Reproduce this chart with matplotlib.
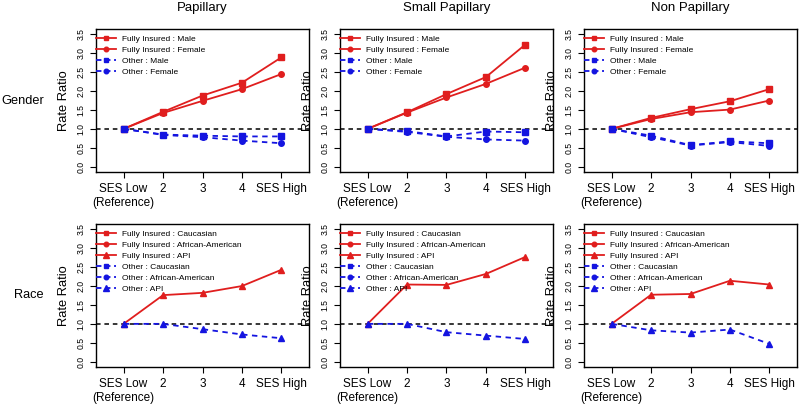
import numpy as np
import matplotlib
matplotlib.use("Agg")
import matplotlib.pyplot as plt
from matplotlib.lines import Line2D

plt.rcParams['font.family'] = ['Liberation Sans', 'DejaVu Sans']

ses_levels = [1, 2, 3, 4, 5]
ses_labels = ["SES Low\n(Reference)", "2", "3", "4", "SES High"]
histologies = ["Papillary", "Small Papillary", "Non Papillary"]

# Gender row
fi_male = [[1.00, 1.45, 1.88, 2.22, 2.89],
           [1.00, 1.44, 1.92, 2.37, 3.23],
           [1.00, 1.29, 1.52, 1.73, 2.05]]
fi_female = [[1.00, 1.42, 1.74, 2.05, 2.45],
             [1.00, 1.43, 1.83, 2.19, 2.62],
             [1.00, 1.26, 1.44, 1.51, 1.75]]
oth_male = [[1.00, 0.85, 0.82, 0.80, 0.80],
            [1.00, 0.94, 0.80, 0.93, 0.91],
            [1.00, 0.82, 0.57, 0.67, 0.62]]
oth_female = [[1.00, 0.84, 0.78, 0.69, 0.62],
              [1.00, 0.92, 0.79, 0.72, 0.69],
              [1.00, 0.78, 0.56, 0.65, 0.55]]

# Race row (only API series visible)
fi_api = [[1.00, 1.76, 1.82, 2.00, 2.43],
          [1.00, 2.04, 2.03, 2.32, 2.77],
          [1.00, 1.77, 1.79, 2.14, 2.04]]
oth_api = [[1.00, 1.00, 0.86, 0.72, 0.62],
           [1.00, 1.00, 0.78, 0.69, 0.60],
           [1.00, 0.83, 0.77, 0.85, 0.47]]

gender_labels = ["Fully Insured : Male", "Fully Insured : Female",
                 "Other : Male", "Other : Female"]
race_labels = ["Fully Insured : Caucasian", "Fully Insured : African-American",
               "Fully Insured : API", "Other : Caucasian",
               "Other : African-American", "Other : API"]

RED = '#e01e1e'
BLUE = '#1414e0'

W, H = 800, 405
fig = plt.figure(figsize=(8.0, 4.05), dpi=100)

col_left = [96, 340, 584]
ax_w = 213
row_top = [29, 224]
ax_h = 143


def make_ax(r, c):
    l = col_left[c] / W
    b = 1 - (row_top[r] + ax_h) / H
    ax = fig.add_axes([l, b, ax_w / W, ax_h / H])
    ax.set_xlim(0.3, 5.7)
    ax.set_ylim(-0.14, 3.64)
    ax.set_xticks(ses_levels)
    ax.set_xticklabels(ses_labels, fontsize=8.5, linespacing=1.25)
    ax.set_yticks(np.arange(0, 3.51, 0.5))
    ax.set_yticklabels([f"{v:.1f}" for v in np.arange(0, 3.51, 0.5)],
                       fontsize=6.2, rotation=90, va='center')
    ax.tick_params(axis='both', direction='out', length=4.5, width=0.8)
    ax.tick_params(axis='x', pad=3.5)
    ax.tick_params(axis='y', pad=3)
    for s in ax.spines.values():
        s.set_linewidth(1.0)
    ax.axhline(1.0, color='black', linestyle=(0, (3, 2.5)), linewidth=1.1, zorder=1)
    ax.set_ylabel("Rate Ratio", fontsize=9.3, labelpad=5)
    return ax


lw = 1.3
ms = 4.0
dash_leg = (0, (3, 2))
for c in range(3):
    ax = make_ax(0, c)
    ax.plot(ses_levels, fi_male[c], color=RED, marker='s', ms=ms, lw=lw)
    ax.plot(ses_levels, fi_female[c], color=RED, marker='o', ms=ms, lw=lw)
    ax.plot(ses_levels, oth_male[c], color=BLUE, marker='s', ms=ms, lw=lw,
            linestyle=(0, (3, 2.5)))
    ax.plot(ses_levels, oth_female[c], color=BLUE, marker='o', ms=ms, lw=lw,
            linestyle=(0, (3, 2.5)))
    handles = [
        Line2D([], [], color=RED, marker='s', ms=3.3, lw=lw),
        Line2D([], [], color=RED, marker='o', ms=3.3, lw=lw),
        Line2D([], [], color=BLUE, marker='s', ms=3.3, lw=lw, linestyle=dash_leg),
        Line2D([], [], color=BLUE, marker='o', ms=3.3, lw=lw, linestyle=dash_leg),
    ]
    ax.legend(handles, gender_labels, loc='upper left', bbox_to_anchor=(0.0, 0.96),
              frameon=False, fontsize=6.0, handlelength=2.4, handletextpad=0.7,
              labelspacing=0.38, borderaxespad=0.05, borderpad=0.0)
    fig.text((col_left[c] + ax_w / 2) / W, 1 - 8 / H, histologies[c],
             ha='center', va='center', fontsize=9.5)

for c in range(3):
    ax = make_ax(1, c)
    ax.plot(ses_levels, fi_api[c], color=RED, marker='^', ms=ms + 0.7, lw=lw)
    ax.plot(ses_levels, oth_api[c], color=BLUE, marker='^', ms=ms + 0.7, lw=lw,
            linestyle=(0, (3, 2.5)))
    handles = [
        Line2D([], [], color=RED, marker='s', ms=3.3, lw=lw),
        Line2D([], [], color=RED, marker='o', ms=3.3, lw=lw),
        Line2D([], [], color=RED, marker='^', ms=3.8, lw=lw),
        Line2D([], [], color=BLUE, marker='s', ms=3.3, lw=lw, linestyle=dash_leg),
        Line2D([], [], color=BLUE, marker='o', ms=3.3, lw=lw, linestyle=dash_leg),
        Line2D([], [], color=BLUE, marker='^', ms=3.8, lw=lw, linestyle=dash_leg),
    ]
    ax.legend(handles, race_labels, loc='upper left', bbox_to_anchor=(0.0, 0.96),
              frameon=False, fontsize=6.0, handlelength=2.4, handletextpad=0.7,
              labelspacing=0.38, borderaxespad=0.05, borderpad=0.0)

fig.text(44 / W, 1 - (row_top[0] + ax_h / 2) / H, "Gender", ha='right',
         va='center', fontsize=9.2)
fig.text(44 / W, 1 - (row_top[1] + ax_h / 2) / H, "Race", ha='right',
         va='center', fontsize=9.2)

fig.savefig("out.png", dpi=100)
